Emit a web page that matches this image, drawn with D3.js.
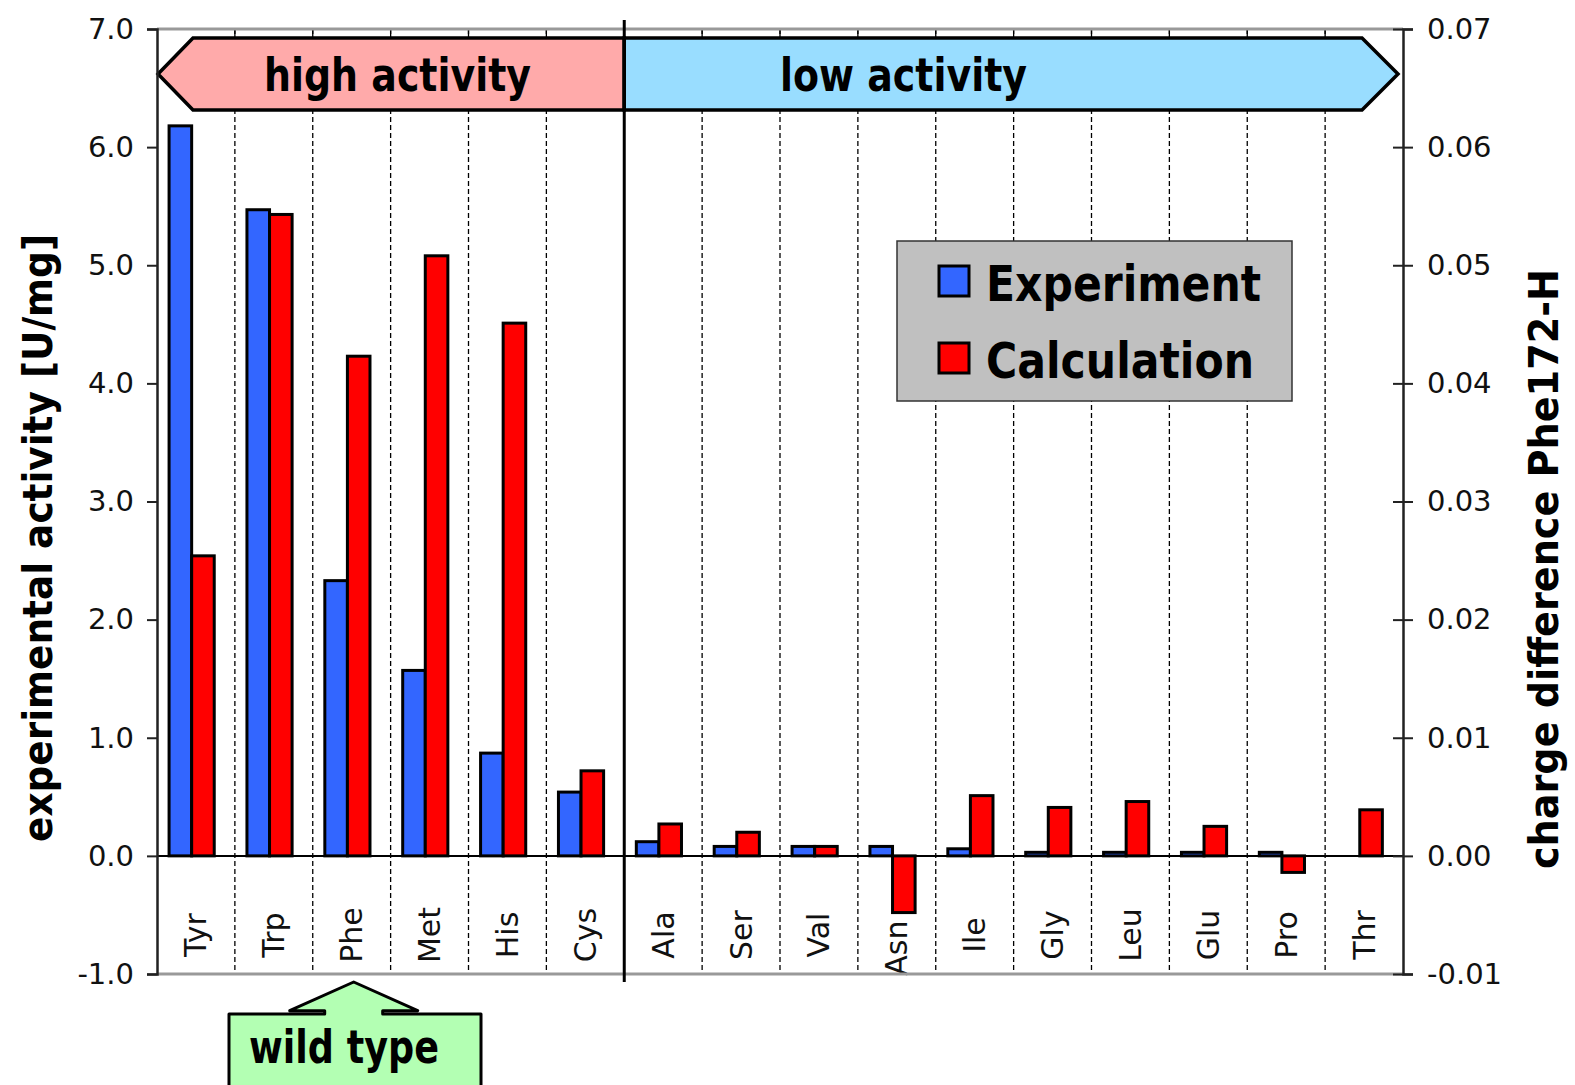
<!DOCTYPE html>
<html>
<head>
<meta charset="utf-8">
<script src="https://cdn.jsdelivr.net/npm/d3@7"></script>
<style>
  body { margin: 0; background: #fff; }
  text { font-family: "DejaVu Sans", sans-serif; }
</style>
</head>
<body>
<div id="chart"></div>
<script>
// values
var categories = ["Tyr", "Trp", "Phe", "Met", "His", "Cys", "Ala", "Ser", "Val", "Asn", "Ile", "Gly", "Leu", "Glu", "Pro", "Thr"];
var experiment = [6.18, 5.47, 2.33, 1.57, 0.87, 0.54, 0.12, 0.08, 0.08, 0.08, 0.06, 0.03, 0.03, 0.03, 0.03, 0];
var calculation = [0.0254, 0.0543, 0.0423, 0.0508, 0.0451, 0.0072, 0.0027, 0.0020, 0.0008, -0.0048, 0.0051, 0.0041, 0.0046, 0.0025, -0.0014, 0.0039];
var leftTicks = [-1, 0, 1, 2, 3, 4, 5, 6, 7];
var rightTicks = [-0.01, 0, 0.01, 0.02, 0.03, 0.04, 0.05, 0.06, 0.07];
var seriesNames = ["Experiment", "Calculation"];
var seriesColors = ["#3366ff", "#ff0000"];
var highGroup = ["Tyr", "Trp", "Phe", "Met", "His", "Cys"];

var W = 1575, H = 1085;
var plotL = 157, plotR = 1403, plotT = 29, plotB = 974;

var svg = d3.select("#chart").append("svg")
  .attr("width", W)
  .attr("height", H)
  .style("background", "#fff");

/* scales */
var x = d3.scaleBand().domain(categories).range([plotL, plotR]);
var bw = x.bandwidth();
var yL = d3.scaleLinear().domain([-1, 7]).range([plotB, plotT]);
var yR = d3.scaleLinear().domain([-0.01, 0.07]).range([plotB, plotT]);
var splitAt = categories[highGroup.length];

/* dashed separators between categories */
var grid = svg.append("g");
grid.selectAll("line.sep")
  .data(categories.slice(1).filter(d => d !== splitAt))
  .join("line")
  .attr("class", "sep")
  .attr("x1", d => x(d)).attr("x2", d => x(d))
  .attr("y1", plotT).attr("y2", plotB)
  .attr("stroke", "#000")
  .attr("stroke-width", 1.3)
  .attr("stroke-dasharray", "5,3");
grid.selectAll("line.toptick")
  .data(categories.slice(1))
  .join("line")
  .attr("class", "toptick")
  .attr("x1", d => x(d)).attr("x2", d => x(d))
  .attr("y1", plotT).attr("y2", plotT + 9)
  .attr("stroke", "#000")
  .attr("stroke-width", 1.3);

/* activity banner */
var bTop = 38, bBot = 110, bMid = (bTop + bBot) / 2, tip = 36;
var xs = x(splitAt);
svg.append("path")
  .attr("d", `M${plotL + 1},${bMid} L${plotL + tip},${bTop} L${xs},${bTop} L${xs},${bBot} L${plotL + tip},${bBot} Z`)
  .attr("fill", "#ffaaaa").attr("stroke", "#000").attr("stroke-width", 3.5);
svg.append("path")
  .attr("d", `M${xs},${bTop} L${plotR - 41},${bTop} L${plotR - 5},${bMid} L${plotR - 41},${bBot} L${xs},${bBot} Z`)
  .attr("fill", "#99ddff").attr("stroke", "#000").attr("stroke-width", 3.5);
svg.append("text")
  .attr("x", 264).attr("y", 91)
  .attr("textLength", 267).attr("lengthAdjust", "spacingAndGlyphs")
  .style("font-size", "46px").style("font-weight", "bold")
  .text("high activity");
svg.append("text")
  .attr("x", 780).attr("y", 91)
  .attr("textLength", 247).attr("lengthAdjust", "spacingAndGlyphs")
  .style("font-size", "46px").style("font-weight", "bold")
  .text("low activity");

/* category labels (drawn under the bars) */
var labels = svg.append("g").selectAll("text")
  .data(categories)
  .join("text")
  .attr("text-anchor", "middle")
  .attr("dy", "0.35em")
  .style("font-size", "30px")
  .attr("fill", "#111")
  .text(d => d);
labels.attr("transform", function(d, i) {
  // push a label down if a negative bar reaches into it
  var half = this.getComputedTextLength() / 2;
  var barEnd = yR(Math.min(calculation[i], 0)) + 8;
  var cy = Math.max(935, barEnd + half);
  return `translate(${x(d) + bw / 2},${cy}) rotate(-90)`;
});

/* bars */
var barW = bw * 0.29, off = bw * 0.155;
var bars = svg.append("g");
bars.selectAll("rect.exp")
  .data(categories.map((c, i) => ({c: c, v: experiment[i]})).filter(d => d.v !== 0))
  .join("rect")
  .attr("class", "exp")
  .attr("x", d => x(d.c) + off)
  .attr("y", d => yL(Math.max(d.v, 0)))
  .attr("width", barW)
  .attr("height", d => Math.abs(yL(d.v) - yL(0)))
  .attr("fill", seriesColors[0])
  .attr("stroke", "#000").attr("stroke-width", 3);
bars.selectAll("rect.calc")
  .data(categories.map((c, i) => ({c: c, v: calculation[i]})))
  .join("rect")
  .attr("class", "calc")
  .attr("x", d => x(d.c) + off + barW)
  .attr("y", d => yR(Math.max(d.v, 0)))
  .attr("width", barW)
  .attr("height", d => Math.abs(yR(d.v) - yR(0)))
  .attr("fill", seriesColors[1])
  .attr("stroke", "#000").attr("stroke-width", 3);

/* frame, zero line, group divider */
svg.append("line").attr("x1", plotL).attr("x2", plotR).attr("y1", plotT).attr("y2", plotT)
  .attr("stroke", "#999").attr("stroke-width", 3);
svg.append("line").attr("x1", plotL).attr("x2", plotR).attr("y1", plotB).attr("y2", plotB)
  .attr("stroke", "#999").attr("stroke-width", 3);
svg.append("line").attr("x1", plotL).attr("x2", plotR).attr("y1", yL(0)).attr("y2", yL(0))
  .attr("stroke", "#000").attr("stroke-width", 2);
svg.append("line").attr("x1", xs).attr("x2", xs).attr("y1", plotT - 9).attr("y2", plotB + 8)
  .attr("stroke", "#000").attr("stroke-width", 3);

/* axes */
var gL = svg.append("g").attr("transform", `translate(${plotL},0)`)
  .call(d3.axisLeft(yL).tickValues(leftTicks).tickFormat(d => d.toFixed(1)).tickSize(10).tickPadding(13));
var gR = svg.append("g").attr("transform", `translate(${plotR},0)`)
  .call(d3.axisRight(yR).tickValues(rightTicks).tickFormat(d => d.toFixed(2)).tickSize(10).tickPadding(14));
gR.selectAll(".tick line").attr("x1", -10);
[gL, gR].forEach(function(g) {
  g.select(".domain").attr("stroke", "#222").attr("stroke-width", 2.5);
  g.selectAll(".tick line").attr("stroke", "#222").attr("stroke-width", 2);
  g.selectAll(".tick text").attr("fill", "#111").style("font-size", "29px").style("font-family", "DejaVu Sans");
});

/* axis titles */
svg.append("text")
  .attr("transform", "translate(52,538) rotate(-90)")
  .attr("text-anchor", "middle")
  .attr("textLength", 608).attr("lengthAdjust", "spacingAndGlyphs")
  .style("font-size", "40px").style("font-weight", "bold")
  .text("experimental activity [U/mg]");
svg.append("text")
  .attr("transform", "translate(1558,569) rotate(-90)")
  .attr("text-anchor", "middle")
  .attr("textLength", 600).attr("lengthAdjust", "spacingAndGlyphs")
  .style("font-size", "40px").style("font-weight", "bold")
  .text("charge difference Phe172-H");

/* legend */
var lg = svg.append("g");
lg.append("rect")
  .attr("x", 897).attr("y", 241).attr("width", 395).attr("height", 160)
  .attr("fill", "#c0c0c0").attr("stroke", "#333").attr("stroke-width", 1.5);
var legendLen = [275, 268];
seriesNames.forEach(function(name, i) {
  var yy = 266 + i * 77;
  lg.append("rect")
    .attr("x", 939).attr("y", yy).attr("width", 30).attr("height", 30)
    .attr("fill", seriesColors[i]).attr("stroke", "#000").attr("stroke-width", 3);
  lg.append("text")
    .attr("x", 986).attr("y", yy + 35)
    .attr("textLength", legendLen[i]).attr("lengthAdjust", "spacingAndGlyphs")
    .style("font-size", "50px").style("font-weight", "bold")
    .text(name);
});

/* wild type marker under Phe */
var cx = x("Phe") + bw / 2 + 2;
var boxTop = 1014, headBase = 1010.7, tipY = 982;
svg.append("path")
  .attr("d", `M229,${H + 5} L229,${boxTop} L${cx - 29},${boxTop} L${cx - 29},${headBase} L${cx - 64},${headBase}
              L${cx},${tipY} L${cx + 64},${headBase} L${cx + 29},${headBase} L${cx + 29},${boxTop}
              L481,${boxTop} L481,${H + 5} Z`)
  .attr("fill", "#b3ffb3").attr("stroke", "#000").attr("stroke-width", 3).attr("stroke-linejoin", "round");
svg.append("text")
  .attr("x", 249).attr("y", 1063)
  .attr("textLength", 190).attr("lengthAdjust", "spacingAndGlyphs")
  .style("font-size", "46px").style("font-weight", "bold")
  .text("wild type");
</script>
</body>
</html>
